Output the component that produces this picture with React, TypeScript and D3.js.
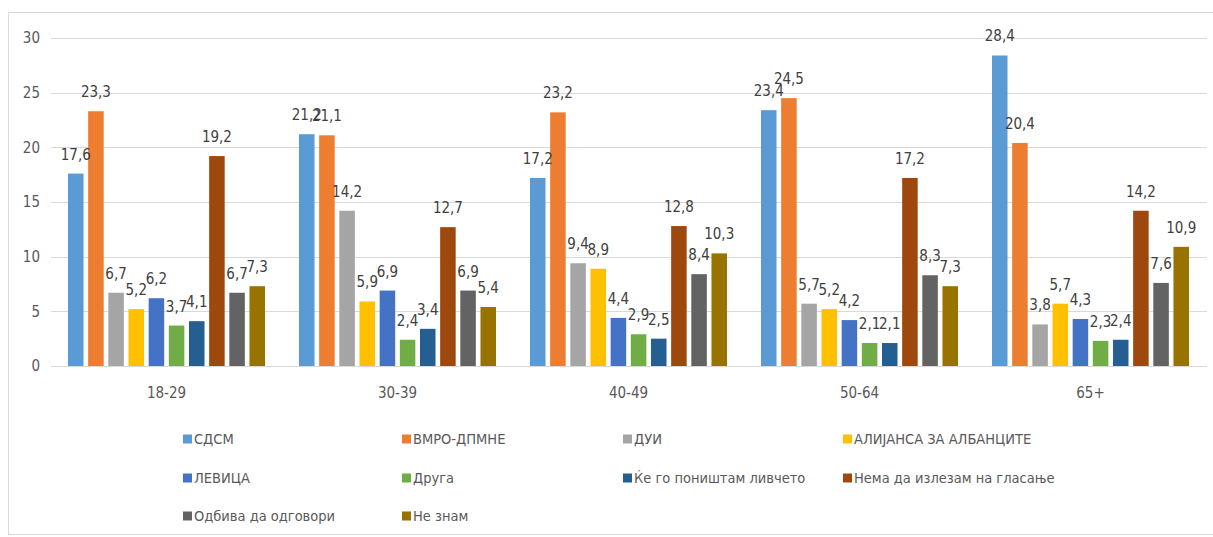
import React from "react";
import * as d3 from "d3";

const categories = ["18-29", "30-39", "40-49", "50-64", "65+"];
const seriesNames = [
  "СДСМ",
  "ВМРО-ДПМНЕ",
  "ДУИ",
  "АЛИЈАНСА ЗА АЛБАНЦИТЕ",
  "ЛЕВИЦА",
  "Друга",
  "Ќе го поништам ливчето",
  "Нема да излезам на гласање",
  "Одбива да одговори",
  "Не знам",
];
const sdsm = [17.6, 21.2, 17.2, 23.4, 28.4];
const vmro = [23.3, 21.1, 23.2, 24.5, 20.4];
const dui = [6.7, 14.2, 9.4, 5.7, 3.8];
const alijansa = [5.2, 5.9, 8.9, 5.2, 5.7];
const levica = [6.2, 6.9, 4.4, 4.2, 4.3];
const druga = [3.7, 2.4, 2.9, 2.1, 2.3];
const ponistam = [4.1, 3.4, 2.5, 2.1, 2.4];
const nema = [19.2, 12.7, 12.8, 17.2, 14.2];
const odbiva = [6.7, 6.9, 8.4, 8.3, 7.6];
const neznam = [7.3, 5.4, 10.3, 7.3, 10.9];
const yTicks = [0, 5, 10, 15, 20, 25, 30];

const seriesValues = [sdsm, vmro, dui, alijansa, levica, druga, ponistam, nema, odbiva, neznam];
const colors = [
  "#5B9BD5", "#ED7D31", "#A5A5A5", "#FFC000", "#4472C4",
  "#70AD47", "#255E91", "#9E480E", "#636363", "#997300",
];

const FONT = "'Liberation Sans Narrow', 'DejaVu Sans Condensed', 'Roboto', sans-serif";

export default function App() {
  const W = 1213, H = 537;
  const x0 = d3.scaleBand<string>().domain(categories).range([51, 1206]).padding(0);
  const x1 = d3.scaleBand<string>().domain(seriesNames).range([17, 214]).paddingInner(0.23).paddingOuter(0);
  const y = d3.scaleLinear().domain([0, 30]).range([366, 38]);
  const fmt = (v: number) => v.toFixed(1).replace(".", ",");

  const legendCols = [183, 402, 623, 843];
  const legendRows = [439, 478, 516];

  return (
    <svg width={W} height={H} style={{ position: "absolute", left: 0, top: 0, fontFamily: FONT }}>
      <rect x={0} y={0} width={W} height={H} fill="#fff" />
      <rect x={8.5} y={12.5} width={1215} height={522} fill="none" stroke="#D9D9D9" />
      {yTicks.map((t) => (
        <g key={t}>
          <line x1={51} x2={1207} y1={Math.round(y(t)) + 0.5} y2={Math.round(y(t)) + 0.5} stroke="#D9D9D9" strokeWidth={1} />
          <text x={40} y={y(t)} dy="0.35em" textAnchor="end" fontSize={15} fill="#595959">{t}</text>
        </g>
      ))}
      {categories.map((c, ci) => (
        <g key={c} transform={`translate(${x0(c)},0)`}>
          {seriesNames.map((s, si) => {
            const v = seriesValues[si][ci];
            const bx = x1(s)!;
            return (
              <rect key={s} x={bx} y={y(v)} width={x1.bandwidth()} height={y(0) - y(v)} fill={colors[si]} />
            );
          })}
          {seriesNames.map((s, si) => {
            const v = seriesValues[si][ci];
            const bx = x1(s)! + x1.bandwidth() / 2;
            return (
              <text key={s + "l"} x={bx} y={y(v) - 14} textAnchor="middle" fontSize={15} fill="#404040">{fmt(v)}</text>
            );
          })}
          <text x={x0.bandwidth() / 2} y={398} textAnchor="middle" fontSize={15} fill="#595959">{c}</text>
        </g>
      ))}
      {seriesNames.map((s, i) => {
        const lx = legendCols[i % 4];
        const ly = legendRows[Math.floor(i / 4)];
        return (
          <g key={s}>
            <rect x={lx} y={ly - 4.5} width={9} height={9} fill={colors[i]} />
            <text x={lx + 11} y={ly} dy="0.35em" fontSize={14.5} fill="#595959">{s}</text>
          </g>
        );
      })}
    </svg>
  );
}
